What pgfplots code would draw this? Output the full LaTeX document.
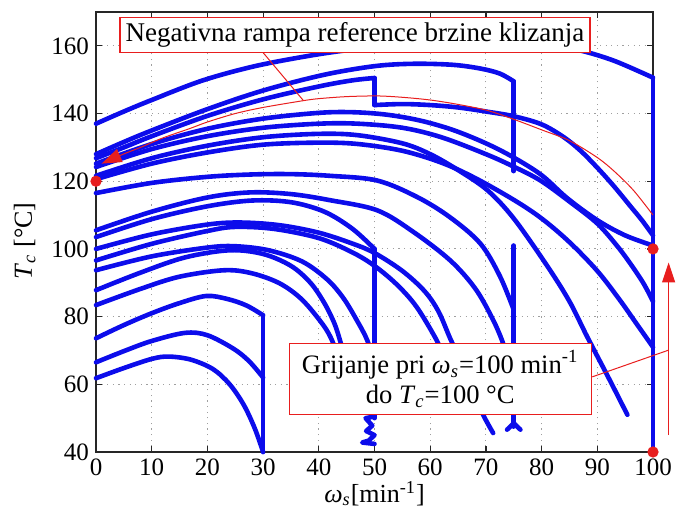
\documentclass[border=0pt]{standalone}
\usepackage{fontspec}
\setmainfont{Liberation Serif}
\usepackage{pgfplots}
\pgfplotsset{compat=1.18}
\usetikzlibrary{arrows.meta}
\definecolor{myred}{RGB}{232,30,30}
\definecolor{myblue}{RGB}{12,12,235}
\begin{document}
\begin{tikzpicture}
\begin{axis}[
  scale only axis, width=278.5pt, height=220pt,
  xmin=0, xmax=100, ymin=40, ymax=170,
  xtick={0,10,...,100}, ytick={40,60,...,160},
  grid=major,
  major grid style={gray!75, line width=0.5pt, dash pattern=on 0.6pt off 2.2pt},
  axis line style={black!85, line width=0.6pt},
  major tick length=3pt, tick style={black!85, line width=0.6pt},
  tick label style={font=\fontsize{12.5}{14}\selectfont},
  /pgf/number format/assume math mode=true,
  clip=false,
  xlabel={\textit{ω}\textsubscript{\textit{s}}[min\textsuperscript{-1}]},
  ylabel={\textit{T}\textsubscript{\textit{c}} [°C]},
  label style={font=\fontsize{13}{15}\selectfont},
  xlabel style={at={(axis description cs:0.5,-0.095)}, anchor=center},
  ylabel style={at={(axis description cs:-0.128,0.48)}, anchor=center},
  blu/.style={myblue, line width=2.3pt, line cap=round, line join=round},
  bls/.style={blu, smooth, tension=0.55},
]
% verticals
\addplot[blu] coordinates {(100,40)(100,150.6)};
\addplot[blu] coordinates {(75,123)(75,149.5)};
\addplot[blu] coordinates {(75,47.5)(75,101)};
\addplot[blu] coordinates {(73.8,46.6)(75,48.5)(76.2,46.6)};
\addplot[blu] coordinates {(50,142.5)(50,150.5)};
\addplot[blu] coordinates {(50,50)(50,100)};
\addplot[blu] coordinates {(50,50.5)(48.4,50)(49.6,47.8)(48.5,46.2)(50,45)(49,43.4)(47.8,42.8)(50,42.4)};
\addplot[blu] coordinates {(30,40)(30,80.4)};
% upper arcs
\addplot[bls] coordinates {(0,137)(5,140.6)(10,144)(19,149.7)(28,153.8)(37,156.7)(45,158.7)(55,160.4)(65,161)(75,160.7)(82,159.8)(87,158.6)(93,155.6)(100,150.6)};
\addplot[bls] coordinates {(0,128)(5,131.6)(10,135)(20,141.3)(30,146.8)(40.8,151.4)(50,154)(57,154.7)(64,154.4)(69,153.3)(72.5,151.8)(75,149.5)};
\addplot[bls] coordinates {(0,126.8)(5,130)(10,133.3)(20,139.3)(30,144.2)(40,148)(46,149.8)(50,150.5)};
\addplot[bls] coordinates {(50,142.5)(55,142.8)(60,142.5)(65,141.8)(70,140.6)(75,139.2)(80,136.8)(84,133)(87,129)(90,124)(93,118.5)(96,112.5)(98,108.5)(100,104)};
\addplot[bls] coordinates {(0,125.2)(10,131)(20,135.5)(30,138.5)(40,140.2)(46,140.4)(52,139.7)(58,138)(64,135.2)(70,131.2)(75,127)(80,121.8)(84.6,115)(90,108.5)(95,104)(100,101)};
\addplot[bls] coordinates {(0,124.2)(10,129.5)(20,133.3)(30,135.8)(40,137)(47,137)(55,135.8)(62,133)(70,128)(75,124.3)(79.8,120.2)(85,114)(90,107.5)(93.6,100.8)(96,95.5)(98.3,89.8)(100,84.5)};
\addplot[bls] coordinates {(0,121.6)(10,126.8)(20,130.5)(30,133)(40,134)(47,133.6)(55,131.2)(60,128)(65,123.3)(70.3,117.3)(75,109)(81,95)(85,84.5)(88.2,74)(92,62)(95.4,51)};
\addplot[bls] coordinates {(0,120.6)(10,125.2)(20,128.5)(30,130.8)(40,131.4)(47,131)(55,129)(62,125.5)(68,121)(75,114.5)(80,109)(85,102)(90,93.5)(94,85)(97,78)(100,71)};
\addplot[bls] coordinates {(0,116.5)(10,119.5)(20,121.3)(28,122)(35,122.1)(42,121.6)(50.5,120.2)(57.7,115.3)(63.6,109.3)(69,101.6)(72.5,92)(75,82)};
% middle arcs
\addplot[bls] coordinates {(0,105.5)(10,111)(20,115.2)(27.7,116.7)(35,116.2)(42,114.4)(50.5,111.4)(57,105)(63.6,96.6)(68,88.5)(71,80)(73,72.5)(74.5,64)};
\addplot[bls] coordinates {(0,103.5)(10,108.8)(20,112.6)(28,114.3)(35,113.8)(41,111)(46,106)(50,100)};
\addplot[bls] coordinates {(0,100)(10,104.3)(20,107.2)(26,107.8)(33,107)(40,104.8)(46,101.6)(50,98.8)(55,93.5)(59,87.5)(61.5,81.5)(63.6,73.5)(66,65)(68,57)(69.5,51)(71.3,45.6)};
\addplot[bls] coordinates {(0,96.6)(10,101.5)(20,105.3)(25,106.5)(32,105.9)(40,103.2)(46,99)(50,95)(54,89.5)(57.5,83)(61,73.5)(63,66.5)};
\addplot[bls] coordinates {(0,93.7)(10,97.8)(20,100.4)(25,100.8)(31,99.6)(37,96.3)(41.5,91)(44.4,85.5)(46.8,79)(48.7,73)(50,66)};
\addplot[bls] coordinates {(0,87.8)(8,93)(16,97.5)(24,99.6)(30,98.5)(35,95)(38.5,90)(41,84)(42.8,78)(43.8,73)(45,66)};
\addplot[bls] coordinates {(0,83.4)(8,88.2)(15,91.8)(23,93.7)(28,92.8)(33,89.8)(37,85)(40.8,77.5)(42.5,72.5)(43.5,67)};
% 30 group
\addplot[bls] coordinates {(0,73.6)(5,77.5)(10,81)(15,84)(19.8,86.1)(23.6,85.2)(27,83.3)(30,80.4)};
\addplot[bls] coordinates {(0,66.5)(5,69.8)(10,72.8)(16,75.2)(20,74.5)(24.7,70.5)(27.5,66.8)(30,62)};
\addplot[bls] coordinates {(0,61.8)(5,64.8)(10,67.5)(13,68.2)(17,67.3)(21,64.5)(24,60)(26.5,54)(28.5,47)(30,40)};
% red annotations
\addplot[myred, line width=0.5pt, smooth, -{Triangle[length=10pt,width=7pt]}] coordinates {(100,110)(96.5,117.3)(93,123)(90,127)(85,132)(80.3,135)(75,138.3)(70.3,140.9)(65,142.7)(60,144)(55,144.8)(50.5,145.2)(45,145)(40,144.4)(37.2,143.8)(30,141.8)(25,140)(20,137.5)(16.9,135.6)(12,132.8)(8,130)(4.9,128)(1,125.2)};
\addplot[myred, line width=0.5pt] coordinates {(30,158)(37.2,143.9)};
\addplot[myred, line width=0.5pt] coordinates {(89.1,62.2)(102.8,70.1)};
\addplot[myred, line width=0.6pt, -{Triangle[length=10pt,width=6.5pt]}] coordinates {(102.8,45)(102.8,96)};
\addplot[only marks, mark=*, mark size=2.6pt, myred] coordinates {(0,120)(100,100)(100,40)};
\node[draw=myred, fill=white, line width=0.6pt, minimum width=235pt, minimum height=17.5pt, inner sep=0pt, font=\fontsize{13.5}{15}\selectfont] at (axis cs:46.5,163.2) {Negativna rampa reference brzine klizanja};
\node[draw=myred, fill=white, line width=0.6pt, minimum width=151pt, minimum height=35.5pt, inner sep=0pt, align=center, font=\fontsize{13.3}{15}\selectfont] at (axis cs:61.8,61.6) {Grijanje pri \textit{ω}\textsubscript{\textit{s}}=100 min\textsuperscript{-1}\\do \textit{T}\textsubscript{\textit{c}}=100 °C};
\end{axis}
\pgfresetboundingbox
\path[use as bounding box] ([shift={(-48pt,-29pt)}]current axis.south west) rectangle ([shift={(14pt,6pt)}]current axis.north east);
\end{tikzpicture}
\end{document}
